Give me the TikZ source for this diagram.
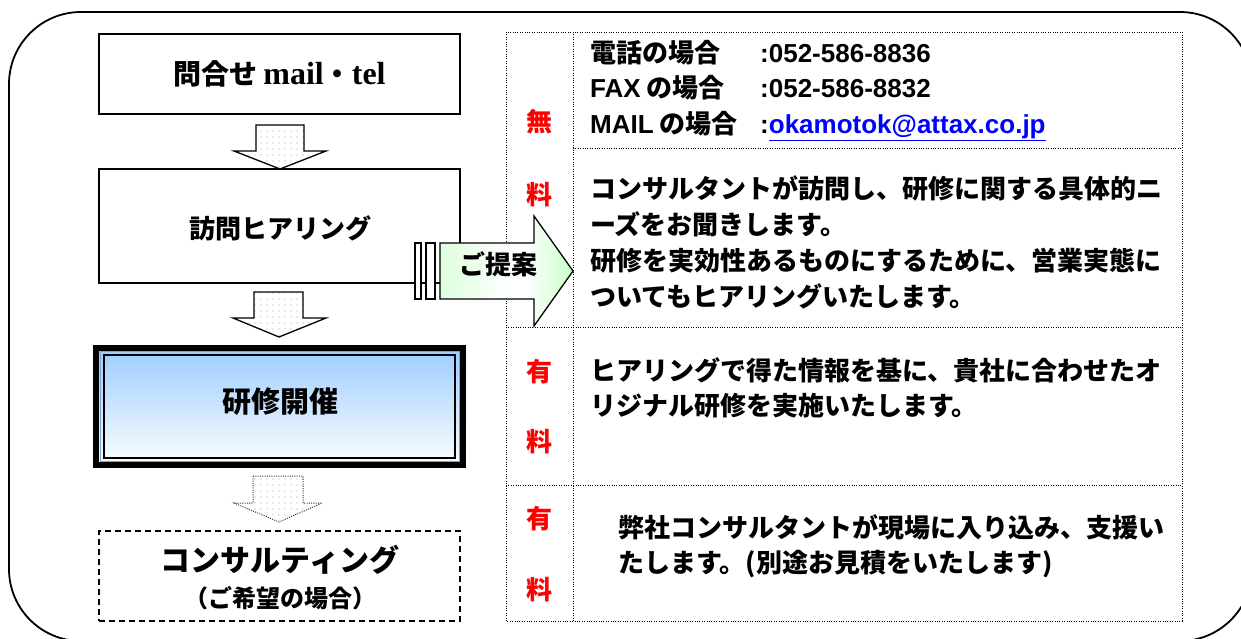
\documentclass[tikz,border=0pt]{standalone}
\usepackage{fontspec}
\usetikzlibrary{patterns.meta}
\newfontfamily\jp{Noto Sans CJK JP}
\newfontfamily\lat{Liberation Sans}
\newfontfamily\ser{Liberation Serif}
\definecolor{lblue}{RGB}{153,204,255}
\definecolor{lgreen}{RGB}{200,255,200}
\definecolor{lgreenb}{RGB}{222,255,222}
\pgfdeclarehorizontalshading{greenarrow}{100bp}{color(0bp)=(lgreenb); color(25bp)=(lgreenb); color(52bp)=(white); color(57bp)=(white); color(75bp)=(lgreen); color(100bp)=(lgreen)}
\tikzdeclarepattern{
  name=sparsedots,
  type=uncolored,
  bottom left={(-.1pt,-.1pt)},
  top right={(6.1pt,6.1pt)},
  tile size={(6pt,6pt)},
  code={\pgfpathcircle{\pgfpoint{3pt}{3pt}}{0.6pt}\pgfusepath{fill}}
}
\begin{document}
\begin{tikzpicture}[x=1pt,y=-1pt,
  jpb/.style={font=\jp\bfseries\fontsize{26}{30}\selectfont, inner sep=0pt},
  tline/.style={jpb, anchor=base west},
  fee/.style={jpb, text=red},
  box/.style={draw, line width=1.5pt, inner sep=0pt},
  cell/.style={draw, line width=0.9pt, dash pattern=on 1pt off 1.4pt},
  hollow/.style={draw, line width=1.3pt, pattern={sparsedots}, pattern color=gray!70}]
\useasboundingbox (0,0) rectangle (1241,638);
\clip (0,0) rectangle (1241,638);
\fill[white] (0,0) rectangle (1241,638);

% outer frame
\draw[line width=1.8pt, rounded corners=72pt] (9,12) rectangle (1252,641);

% right table
\draw[cell] (506,32) rectangle (1182,621);
\draw[cell] (573,32) -- (573,621);
\draw[cell] (573,148) -- (1182,148);
\draw[cell] (506,327) -- (1182,327);
\draw[cell] (506,485) -- (1182,485);

% fee labels
\node[fee] (f1a) at (539,122) {無};
\node[fee] (f1b) at (539,195) {料};
\node[fee] (f2a) at (539,372) {有};
\node[fee] (f2b) at (539,442) {料};
\node[fee] (f3a) at (539,519) {有};
\node[fee] (f3b) at (539,590) {料};

% contact lines
\node[tline] (c1) at (590,62) {電話の場合};
\node[tline] (c2) at (590,97) {{\lat\bfseries FAX} の場合};
\node[tline] (c3) at (590,133) {{\lat\bfseries MAIL} の場合};
\node[tline, font=\lat\bfseries\fontsize{26}{30}\selectfont] (n1) at (760,62) {:052-586-8836};
\node[tline, font=\lat\bfseries\fontsize{26}{30}\selectfont] (n2) at (760,97) {:052-586-8832};
\node[tline, font=\lat\bfseries\fontsize{26}{30}\selectfont] (n3) at (760,133) {:\textcolor{blue}{\underline{okamotok@attax.co.jp}}};

% row 2
\node[tline] (r2a) at (590,198) {コンサルタントが訪問し、研修に関する具体的ニ};
\node[tline] (r2b) at (590,234) {ーズをお聞きします。};
\node[tline] (r2c) at (590,270) {研修を実効性あるものにするために、営業実態に};
\node[tline] (r2d) at (590,306) {ついてもヒアリングいたします。};

% row 3
\node[tline] (r3a) at (590,380) {ヒアリングで得た情報を基に、貴社に合わせたオ};
\node[tline] (r3b) at (590,415) {リジナル研修を実施いたします。};

% row 4
\node[tline] (r4a) at (618,537) {弊社コンサルタントが現場に入り込み、支援い};
\node[tline] (r4b) at (618,572) {たします。(別途お見積をいたします)};

% left column boxes
\node[box, minimum width=361pt, minimum height=80pt] (b1) at (279.5,74)
  {\jp\bfseries\fontsize{28}{32}\selectfont 問合せ\hspace{6pt}{\ser\bfseries\fontsize{32}{34}\selectfont mail}・{\ser\bfseries\fontsize{32}{34}\selectfont tel}};
\node[box, minimum width=361pt, minimum height=114pt] (b2) at (279.5,226) {};
\node[jpb] (t2) at (280,228) {訪問ヒアリング};

% box 3 (thick frame, gradient)
\node[inner sep=0pt, minimum width=373pt, minimum height=123pt, top color=lblue, bottom color=white] (b3) at (279.5,406.5) {};
\draw[line width=6pt] (96,348) rectangle (463,465);
\draw[line width=0.8pt, lblue!80!black] (100,351.5) rectangle (459,461.5);
\draw[line width=1.5pt] (104,355) rectangle (455,458);
\node[jpb, font=\jp\bfseries\fontsize{29}{32}\selectfont] (t3) at (280,402) {研修開催};

% box 4 dashed
\node[box, dash pattern=on 6pt off 4pt, minimum width=361pt, minimum height=90pt] (b4) at (279.5,576) {};
\node[jpb, font=\jp\bfseries\fontsize{30}{34}\selectfont] (t4a) at (280,560) {コンサルティング};
\node[jpb, font=\jp\bfseries\fontsize{24}{28}\selectfont] (t4b) at (280,598) {（ご希望の場合）};

% hollow down arrows
\draw[hollow] (256,125) -- (304,125) -- (304,151) -- (326,151) -- (280,169) -- (234,151) -- (256,151) -- cycle;
\draw[hollow] (254,292) -- (303,292) -- (303,318) -- (326,318) -- (279,337) -- (233,318) -- (254,318) -- cycle;
\draw[hollow, draw=black!80, line width=1pt, dash pattern=on 1pt off 1.3pt] (253,476) -- (303,476) -- (303,503) -- (322,503) -- (279,522) -- (234,503) -- (253,503) -- cycle;

% proposal arrow
\draw[line width=1.3pt, fill=white] (415,243) rectangle (421,299);
\draw[line width=1.3pt, fill=white] (426,243) rectangle (435,299);
\draw[line width=1.3pt, shading=greenarrow] (440,243) -- (534,243) -- (534,216) -- (573,271) -- (534,326) -- (534,299) -- (440,299) -- cycle;
\node[jpb] (prop) at (498,264) {ご提案};
\end{tikzpicture}
\end{document}
